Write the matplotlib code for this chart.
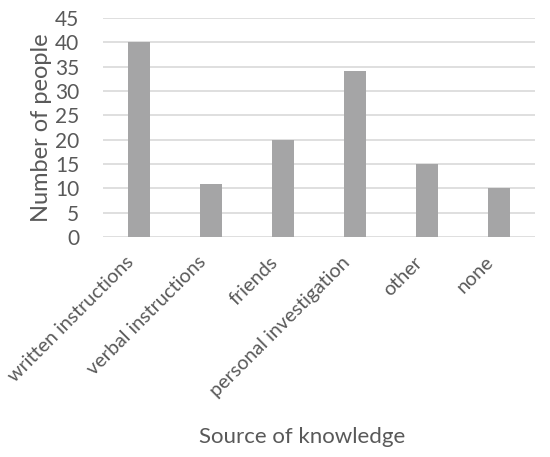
import matplotlib
matplotlib.use("Agg")
import matplotlib.pyplot as plt
import matplotlib.transforms as mtransforms

categories = ["written instructions", "verbal instructions", "friends",
              "personal investigation", "other", "none"]
values = [40, 11, 20, 34, 15, 10]
yticks = [0, 5, 10, 15, 20, 25, 30, 35, 40, 45]

plt.rcParams['font.family'] = ['Lato', 'DejaVu Sans']
txt = '#595959'

fig = plt.figure(figsize=(5.5, 4.57), dpi=100)
ax = fig.add_axes([0.187, 0.481, 0.786, 0.480])
x = list(range(len(categories)))
ax.bar(x, values, width=0.31, color='#a5a5a6', zorder=3)
ax.set_xlim(-0.5, len(categories) - 0.5)
ax.set_ylim(0, 45)
ax.set_yticks(yticks)
ax.set_yticklabels([str(t) for t in yticks], fontsize=15, color=txt)
ax.yaxis.grid(True, color='#d9d9d9', linewidth=1.2, zorder=0)
for s in ax.spines.values():
    s.set_visible(False)
ax.tick_params(axis='both', length=0)
ax.tick_params(axis='y', pad=17)
ax.set_xticks(x)
ax.set_xticklabels(categories, rotation=45, ha='right', va='center',
                   rotation_mode='anchor', fontsize=14.2, color=txt)
ax.tick_params(axis='x', pad=16)
shift = mtransforms.ScaledTranslation(-8 / 100, 0, fig.dpi_scale_trans)
for lab in ax.get_xticklabels():
    lab.set_transform(lab.get_transform() + shift)
ax.set_ylabel("Number of people", fontsize=17, color=txt, labelpad=2)
fig.text(302 / 550, 1 - 437 / 457, "Source of knowledge",
         ha='center', va='center', fontsize=16, color=txt)
fig.savefig("out.png", dpi=100)
